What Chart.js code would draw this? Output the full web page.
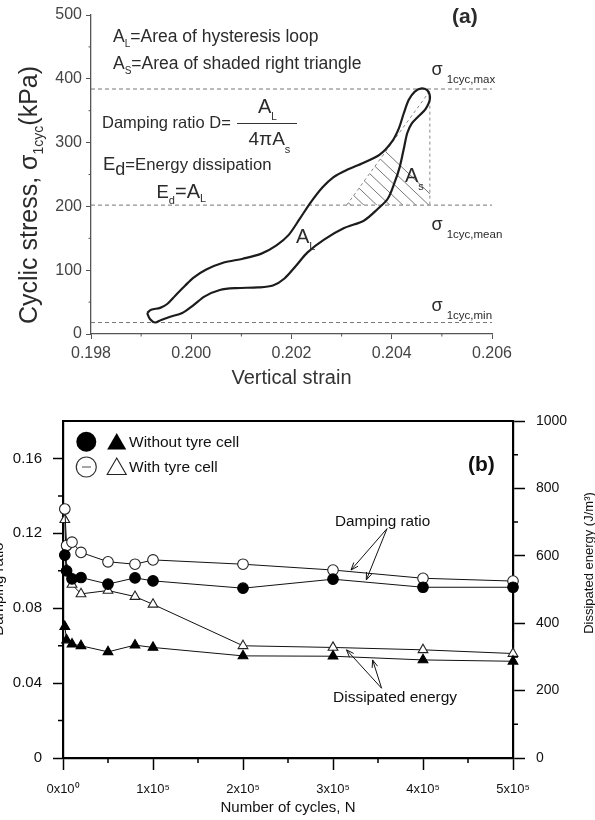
<!DOCTYPE html>
<html><head><meta charset="utf-8">
<script src="https://cdn.jsdelivr.net/npm/chart.js@4.4.1/dist/chart.umd.min.js"></script>
<style>
html,body{margin:0;padding:0;background:#fff;width:595px;height:820px;overflow:hidden;}
.wrap{position:absolute;left:0;width:595px;}
#wrapA{top:0;height:400px;}
#wrapB{top:400px;height:420px;}
canvas{display:block;}
</style></head><body>
<div id="wrapA" class="wrap"><canvas id="chartA" width="595" height="400"></canvas></div>
<div id="wrapB" class="wrap"><canvas id="chartB" width="595" height="420"></canvas></div>
<script>
// ================= (a) hysteresis loop =================
const loopStrain = [0.19912,0.19920,0.19938,0.19952,0.19968,0.19988,0.20004,0.20030,0.20065,0.20103,0.20140,0.20170,0.20194,0.20216,0.20238,0.20262,0.20284,0.20310,0.20343,0.20376,0.20400,0.20414,0.20424,0.20434,0.20446,0.20460,0.20472,0.20476,0.20467,0.20453,0.20440,0.20431,0.20425,0.20416,0.20405,0.20392,0.20372,0.20345,0.20305,0.20265,0.20232,0.20209,0.20186,0.20163,0.20133,0.20090,0.20057,0.20027,0.20004,0.19982,0.19958,0.19940,0.19928,0.19918,0.19912];
const loopStress = [33,38,41,47,60,76,88,101,112,118,126,139,155,180,206,230,246,257,268,281,301,322,346,367,380,385,381,368,352,341,330,315,294,262,236,212,196,178,166,148,128,107,87,76,73,72,69,59,45,33,27,22,18,23,33];
const refStressNames = ['max','mean','min'];
const refStress = [384, 202, 18];
const strainRange = [0.198, 0.206];
const stressRange = [0, 500];
const strainTicks = [0.198, 0.200, 0.202, 0.204, 0.206];
const strainMinorTicks = [0.199, 0.201, 0.203, 0.205];
const stressTicks = [0, 100, 200, 300, 400, 500];
const stressMinorTicks = [50, 150, 250, 350, 450];
const triangleStrain = [0.20310, 0.20476, 0.20476];
const triangleStress = [202, 202, 381];

// ================= (b) damping ratio / dissipated energy =================
const cycles = [2000, 4000, 10000, 20000, 50000, 80000, 100000, 200000, 300000, 400000, 500000];
const dampingWithout = [0.1084, 0.1000, 0.0957, 0.0964, 0.0929, 0.0962, 0.0946, 0.0907, 0.0955, 0.0912, 0.0912];
const dampingWith    = [0.1330, 0.1135, 0.1153, 0.1098, 0.1048, 0.1035, 0.1058, 0.1035, 0.1004, 0.0960, 0.0945];
const energyWithout  = [390, 350, 338, 333, 315, 335, 328, 303, 302, 291, 287];
const energyWith     = [707, 560, 515, 487, 497, 479, 456, 333, 328, 321, 310];
const cycleTicks = [0, 100000, 200000, 300000, 400000, 500000];
const cycleTickLabels = ['0x10\u2070', '1x10\u2075', '2x10\u2075', '3x10\u2075', '4x10\u2075', '5x10\u2075'];
const cycleMinorTicks = [50000, 150000, 250000, 350000, 450000];
const dampingTicks = [0, 0.04, 0.08, 0.12, 0.16];
const dampingTickLabels = ['0', '0.04', '0.08', '0.12', '0.16'];
const dampingMinorTicks = [0.02, 0.06, 0.10, 0.14];
const energyTicks = [0, 200, 400, 600, 800, 1000];
const energyTickLabels = ['0', '200', '400', '600', '800', '1000'];
const energyMinorTicks = [100, 300, 500, 700, 900];
// arrow anchors (data units)
const dampingArrowTail = {x: 360000, y: 0.1225};
const dampingArrowHeads = [{x: 320000, y: 0.1004}, {x: 337000, y: 0.0951}];
const energyArrowTail = {x: 354000, y: 207};
const energyArrowHeads = [{x: 315000, y: 321}, {x: 344000, y: 291}];

// ================= helpers =================
const FONT = '"Liberation Sans", Arial, Helvetica, sans-serif';
Chart.defaults.font.family = FONT;
const pts = (xs, ys) => xs.map((x, i) => ({x, y: ys[i]}));
const fixTicks = vals => (s => { s.ticks = vals.map(v => ({value: v})); });

function rich(ctx, x, y, parts, align) {
  let total = 0;
  for (const p of parts) { ctx.font = (p.bold ? 'bold ' : '') + p.size + 'px ' + FONT; total += ctx.measureText(p.t).width; }
  let cx = align === 'center' ? x - total / 2 : x;
  for (const p of parts) {
    ctx.font = (p.bold ? 'bold ' : '') + p.size + 'px ' + FONT;
    const px = p.x !== undefined ? p.x : cx;
    ctx.fillText(p.t, px, y + (p.dy || 0));
    cx = px + ctx.measureText(p.t).width;
  }
}
function arrow(ctx, x0, y0, x1, y1) {
  const len = 8, ang = 0.36;
  ctx.beginPath(); ctx.moveTo(x0, y0); ctx.lineTo(x1, y1); ctx.stroke();
  const a = Math.atan2(y1 - y0, x1 - x0);
  ctx.beginPath();
  ctx.moveTo(x1 - len * Math.cos(a - ang), y1 - len * Math.sin(a - ang));
  ctx.lineTo(x1, y1);
  ctx.lineTo(x1 - len * Math.cos(a + ang), y1 - len * Math.sin(a + ang));
  ctx.stroke();
}
function minorTicks(ctx, scale, vals, len, side) {
  ctx.beginPath();
  for (const v of vals) {
    const p = scale.getPixelForValue(v);
    if (side === 'bottom') { ctx.moveTo(p, scale.top); ctx.lineTo(p, scale.top + len); }
    else if (side === 'left') { ctx.moveTo(scale.right, p); ctx.lineTo(scale.right - len, p); }
    else { ctx.moveTo(scale.left, p); ctx.lineTo(scale.left + len, p); }
  }
  ctx.stroke();
}

// ================= chart (a) =================
const plugA = {
  id: 'plugA',
  beforeDatasetsDraw(chart) {
    const {ctx, scales: {x, y}} = chart;
    const A = [x.getPixelForValue(triangleStrain[0]), y.getPixelForValue(triangleStress[0])];
    const B = [x.getPixelForValue(triangleStrain[1]), y.getPixelForValue(triangleStress[1])];
    const C = [x.getPixelForValue(triangleStrain[2]), y.getPixelForValue(triangleStress[2])];
    ctx.save();
    ctx.beginPath(); ctx.moveTo(A[0], A[1]); ctx.lineTo(B[0], B[1]); ctx.lineTo(C[0], C[1]); ctx.closePath(); ctx.clip();
    ctx.strokeStyle = '#777'; ctx.lineWidth = 1;
    const slope = 0.95, step = 13;
    ctx.beginPath();
    for (let k = -1; k < 30; k++) {
      const bx = B[0] - 1 - k * step;
      ctx.moveTo(bx + 40, B[1] + 40 * slope);
      ctx.lineTo(bx - 200, B[1] - 200 * slope);
    }
    ctx.stroke();
    ctx.restore();
  },
  afterDraw(chart) {
    const {ctx, scales: {x, y}} = chart;
    ctx.save();
    ctx.strokeStyle = '#555'; ctx.lineWidth = 1;
    minorTicks(ctx, x, strainMinorTicks, 2.5, 'bottom');
    minorTicks(ctx, y, stressMinorTicks, 2.5, 'left');
    ctx.fillStyle = '#2b2b2b'; ctx.textBaseline = 'alphabetic'; ctx.textAlign = 'left';
    // y-axis title
    ctx.save();
    ctx.translate(37, 195); ctx.rotate(-Math.PI / 2);
    rich(ctx, 0, 0, [{t: 'Cyclic stress, \u03c3', size: 25}, {t: '1cyc', size: 14, dy: 6}, {t: '(kPa)', size: 25}], 'center');
    ctx.restore();
    // definitions
    rich(ctx, 113, 41.7, [{t: 'A', size: 17.5}, {t: 'L', size: 10, dy: 5}, {t: '=Area of hysteresis loop', size: 17.5}]);
    rich(ctx, 113, 69, [{t: 'A', size: 17.5}, {t: 'S', size: 10, dy: 5}, {t: '=Area of shaded right triangle', size: 17.5}]);
    rich(ctx, 102, 128.3, [{t: 'Damping ratio D=', size: 16.5}]);
    ctx.strokeStyle = '#333'; ctx.lineWidth = 1.2;
    ctx.beginPath(); ctx.moveTo(237, 123.5); ctx.lineTo(297, 123.5); ctx.stroke();
    rich(ctx, 258, 113.3, [{t: 'A', size: 20}, {t: 'L', size: 10, dy: 7}]);
    rich(ctx, 248.5, 145, [{t: '4\u03c0A', size: 19}, {t: 's', size: 11, dy: 8}]);
    rich(ctx, 103, 170, [{t: 'E', size: 18.5}, {t: 'd', size: 18, dy: 4.5}, {t: '=Energy dissipation', size: 16.7}]);
    rich(ctx, 156.5, 197.7, [{t: 'E', size: 18.5}, {t: 'd', size: 11, dy: 6.5}, {t: '=A', size: 20}, {t: 'L', size: 11, dy: 4.5}]);
    rich(ctx, 452, 23.3, [{t: '(a)', size: 21, bold: true}]);
    // sigma labels
    const sig = [[75, 'max'], [230, 'mean'], [311, 'min']];
    for (const [yy, nm] of sig) {
      rich(ctx, 431.5, yy, [{t: '\u03c3', size: 18}]);
      rich(ctx, 446.7, yy + 7.7, [{t: '1cyc,' + nm, size: 11.5}]);
    }
    rich(ctx, 405, 181.7, [{t: 'A', size: 20}, {t: 's', size: 11, dy: 8}]);
    rich(ctx, 296, 243.3, [{t: 'A', size: 20}, {t: 'L', size: 11, dy: 6.5}]);
    ctx.restore();
  }
};

new Chart(document.getElementById('chartA'), {
  type: 'scatter',
  data: {
    datasets: [
      {label: 'Hysteresis loop', data: pts(loopStrain, loopStress), showLine: true, borderColor: '#1c1c1c', borderWidth: 2.2, pointRadius: 0, tension: 0.3, fill: false},
      ...refStress.map((s, i) => ({label: '\u03c3 1cyc,' + refStressNames[i], data: [{x: strainRange[0], y: s}, {x: strainRange[1], y: s}], showLine: true, borderColor: '#777', borderWidth: 1, borderDash: [4, 3], pointRadius: 0})),
      {label: 'Shaded right triangle', data: [{x: triangleStrain[0], y: triangleStress[0]}, {x: triangleStrain[2], y: triangleStress[2]}, {x: triangleStrain[1], y: triangleStress[1]}], showLine: true, borderColor: '#888', borderWidth: 1, borderDash: [3, 3], pointRadius: 0, tension: 0}
    ]
  },
  options: {
    responsive: false, animation: false, devicePixelRatio: 1, events: [],
    layout: {padding: {left: 0, right: 103, top: 15, bottom: 0}},
    plugins: {legend: {display: false}, tooltip: {enabled: false}},
    scales: {
      x: {type: 'linear', min: strainRange[0], max: strainRange[1],
        afterBuildTicks: fixTicks(strainTicks), afterFit: s => { s.height = 66; },
        ticks: {callback: v => v.toFixed(3), font: {size: 16}, color: '#444', padding: 5, maxRotation: 0, autoSkip: false},
        grid: {drawOnChartArea: false, tickLength: 5, tickColor: '#555', tickWidth: 1},
        border: {color: '#555', width: 1.3},
        title: {display: true, text: 'Vertical strain', font: {size: 20}, color: '#333', padding: {top: 0, bottom: 10}}},
      y: {type: 'linear', min: stressRange[0], max: stressRange[1],
        afterBuildTicks: fixTicks(stressTicks), afterFit: s => { s.width = 91; },
        ticks: {callback: v => String(v), font: {size: 16}, color: '#444', padding: 4},
        grid: {drawOnChartArea: false, tickLength: 5, tickColor: '#555', tickWidth: 1},
        border: {color: '#555', width: 1.3}}
    }
  },
  plugins: [plugA]
});

// ================= chart (b) =================
const plugB = {
  id: 'plugB',
  afterDraw(chart) {
    const {ctx, chartArea: ca, scales: {x, y, y2}} = chart;
    ctx.save();
    ctx.strokeStyle = '#000';
    ctx.lineWidth = 2.2;
    ctx.beginPath(); ctx.moveTo(ca.left - 1, ca.top); ctx.lineTo(ca.right + 1, ca.top); ctx.stroke();
    ctx.lineWidth = 1.5;
    minorTicks(ctx, x, cycleMinorTicks, 5, 'bottom');
    minorTicks(ctx, y, dampingMinorTicks, 5, 'left');
    minorTicks(ctx, y2, energyMinorTicks, 5, 'right');
    // legend
    ctx.lineWidth = 1.2;
    ctx.fillStyle = '#000';
    ctx.beginPath(); ctx.arc(86.3, 41.7, 10, 0, Math.PI * 2); ctx.fill();
    const tri = (cx, cy, r, filled) => {
      ctx.beginPath();
      for (let k = 0; k < 3; k++) { const a = -Math.PI / 2 + k * 2 * Math.PI / 3; const px = cx + r * Math.cos(a), py = cy + r * Math.sin(a); k ? ctx.lineTo(px, py) : ctx.moveTo(px, py); }
      ctx.closePath();
      if (filled) ctx.fill(); else { ctx.fillStyle = '#fff'; ctx.fill(); ctx.stroke(); ctx.fillStyle = '#000'; }
    };
    tri(116.7, 44, 11, true);
    ctx.beginPath(); ctx.arc(86.3, 67, 10, 0, Math.PI * 2); ctx.strokeStyle = '#333'; ctx.stroke();
    ctx.strokeStyle = '#888'; ctx.lineWidth = 1.5;
    ctx.beginPath(); ctx.moveTo(82, 67); ctx.lineTo(91, 67); ctx.stroke();
    ctx.strokeStyle = '#222'; ctx.lineWidth = 1.1;
    tri(116.7, 69, 11, false);
    ctx.fillStyle = '#111'; ctx.textBaseline = 'alphabetic'; ctx.textAlign = 'left';
    rich(ctx, 129, 46.7, [{t: 'Without tyre cell', size: 15.5}]);
    rich(ctx, 129, 71.7, [{t: 'With tyre cell', size: 15.5}]);
    rich(ctx, 468, 71, [{t: '(b)', size: 21, bold: true}]);
    // annotations
    rich(ctx, 335, 126, [{t: 'Damping ratio', size: 15.3}]);
    rich(ctx, 333, 301.7, [{t: 'Dissipated energy', size: 15.5}]);
    ctx.strokeStyle = '#111'; ctx.lineWidth = 1;
    const tx = x.getPixelForValue(dampingArrowTail.x), ty = y.getPixelForValue(dampingArrowTail.y);
    for (const h of dampingArrowHeads) arrow(ctx, tx, ty, x.getPixelForValue(h.x), y.getPixelForValue(h.y));
    const ex = x.getPixelForValue(energyArrowTail.x), ey = y2.getPixelForValue(energyArrowTail.y);
    for (const h of energyArrowHeads) arrow(ctx, ex, ey, x.getPixelForValue(h.x), y2.getPixelForValue(h.y));
    // axis titles (rotated, reading bottom-to-top)
    ctx.save(); ctx.translate(3, 189); ctx.rotate(-Math.PI / 2);
    rich(ctx, 0, 0, [{t: 'Damping ratio', size: 15}], 'center');
    ctx.restore();
    ctx.save(); ctx.translate(593, 163); ctx.rotate(-Math.PI / 2);
    rich(ctx, 0, 0, [{t: 'Dissipated energy (J/m\u00b3)', size: 13}], 'center');
    ctx.restore();
    ctx.restore();
  }
};

const seriesStyle = (filled, style, radius) => ({
  showLine: true, borderColor: '#111', borderWidth: 1, tension: 0, clip: false,
  pointStyle: style, pointRadius: radius, pointBorderWidth: 1.1,
  pointBackgroundColor: filled ? '#000' : '#fff', pointBorderColor: filled ? '#000' : '#222'
});

new Chart(document.getElementById('chartB'), {
  type: 'scatter',
  data: {
    datasets: [
      {label: 'Damping ratio - without tyre cell', data: pts(cycles, dampingWithout), yAxisID: 'y', ...seriesStyle(true, 'circle', 5.3)},
      {label: 'Damping ratio - with tyre cell', data: pts(cycles, dampingWith), yAxisID: 'y', ...seriesStyle(false, 'circle', 5.3)},
      {label: 'Dissipated energy - without tyre cell', data: pts(cycles, energyWithout), yAxisID: 'y2', ...seriesStyle(true, 'triangle', 5.6)},
      {label: 'Dissipated energy - with tyre cell', data: pts(cycles, energyWith), yAxisID: 'y2', ...seriesStyle(false, 'triangle', 5.6)}
    ]
  },
  options: {
    responsive: false, animation: false, devicePixelRatio: 1, events: [],
    layout: {padding: {left: 0, right: 0, top: 21, bottom: 0}},
    plugins: {legend: {display: false}, tooltip: {enabled: false}},
    scales: {
      x: {type: 'linear', min: 0, max: 500000,
        afterBuildTicks: fixTicks(cycleTicks), afterFit: s => { s.height = 62; },
        ticks: {callback: (v, i) => cycleTickLabels[i], font: {size: 13}, color: '#111', padding: 12, maxRotation: 0, autoSkip: false},
        grid: {drawOnChartArea: false, tickLength: 12, tickColor: '#000', tickWidth: 1.5},
        border: {color: '#000', width: 2.2},
        title: {display: true, text: 'Number of cycles, N', font: {size: 15}, color: '#111', padding: {top: 0, bottom: 3}}},
      y: {type: 'linear', position: 'left', min: 0, max: 0.18,
        afterBuildTicks: fixTicks(dampingTicks), afterFit: s => { s.width = 63; },
        ticks: {callback: (v, i) => dampingTickLabels[i], font: {size: 15}, color: '#111', padding: 11},
        grid: {drawOnChartArea: false, tickLength: 10, tickColor: '#000', tickWidth: 1.5},
        border: {color: '#000', width: 2.2}},
      y2: {type: 'linear', position: 'right', min: 0, max: 1000,
        afterBuildTicks: fixTicks(energyTicks), afterFit: s => { s.width = 82; },
        ticks: {callback: (v, i) => energyTickLabels[i], font: {size: 14}, color: '#111', padding: 11},
        grid: {drawOnChartArea: false, tickLength: 12, tickColor: '#000', tickWidth: 1.5},
        border: {color: '#000', width: 2.2}}
    }
  },
  plugins: [plugB]
});
</script>
</body></html>
